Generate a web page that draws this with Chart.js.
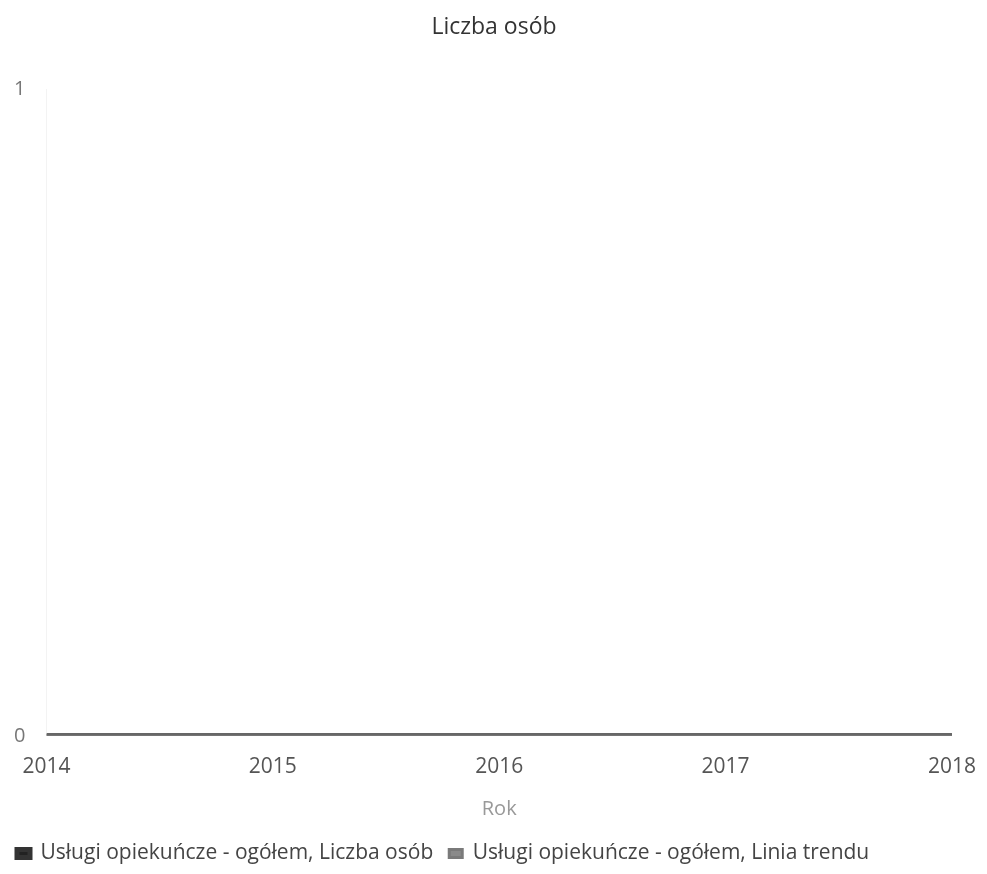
<!DOCTYPE html>
<html>
<head>
<meta charset="utf-8">
<script src="https://cdn.jsdelivr.net/npm/chart.js@4/dist/chart.umd.min.js"></script>
<style>
  html, body { margin:0; padding:0; background:#fff; }
  #wrap { width:987px; height:874px; position:relative; }
</style>
</head>
<body>
<div id="wrap"><canvas id="chart"></canvas></div>
<script>
const years       = [2014, 2015, 2016, 2017, 2018];
const liczbaOsob  = [0, 0, 0, 0, 0];
const liniaTrendu = [0, 0, 0, 0, 0];
const yTicks      = [0, 1];

Chart.defaults.font.family = '"Open Sans", "Noto Sans", sans-serif';
Chart.defaults.color = '#444';

const toPts = arr => arr.map((v, i) => ({ x: years[i], y: v }));

new Chart(document.getElementById('chart'), {
  type: 'line',
  data: {
    datasets: [
      {
        label: 'Usługi opiekuńcze - ogółem, Liczba osób',
        data: toPts(liczbaOsob),
        borderColor: '#333', backgroundColor: '#222',
        borderWidth: 5, pointRadius: 0, order: 2
      },
      {
        label: 'Usługi opiekuńcze - ogółem, Linia trendu',
        data: toPts(liniaTrendu),
        borderColor: '#7a7a7a', backgroundColor: '#8a8a8a',
        borderWidth: 3, pointRadius: 0, order: 1
      }
    ]
  },
  options: {
    responsive: true,
    maintainAspectRatio: false,
    animation: false,
    layout: { padding: { left: 1, right: 0, top: 0, bottom: 0 } },
    plugins: {
      title: {
        display: true, text: 'Liczba osób', color: '#333',
        font: { size: 23, weight: 'normal' }, padding: { top: 14, bottom: 48 }
      },
      legend: {
        position: 'bottom', align: 'start',
        labels: {
          boxWidth: 13, boxHeight: 8, padding: 16, color: '#444',
          font: { size: 21 },
          sort: (a, b) => a.datasetIndex - b.datasetIndex
        }
      },
      tooltip: { enabled: false }
    },
    scales: {
      x: {
        type: 'linear', min: years[0], max: years[years.length - 1],
        grid: { display: false }, border: { display: false },
        afterBuildTicks: ax => { ax.ticks = years.map(v => ({ value: v })); },
        ticks: { color: '#555', font: { size: 21 }, padding: 11, maxRotation: 0,
                 callback: v => String(v) },
        title: { display: true, text: 'Rok', color: '#999', font: { size: 20 }, padding: { top: 6, bottom: 6 } }
      },
      y: {
        min: 0, max: 1,
        grid: { display: false }, border: { color: '#f3f3f3' },
        afterBuildTicks: ax => { ax.ticks = yTicks.map(v => ({ value: v })); },
        ticks: { color: '#777', font: { size: 20 }, padding: 13 }
      }
    }
  }
});
</script>
</body>
</html>
